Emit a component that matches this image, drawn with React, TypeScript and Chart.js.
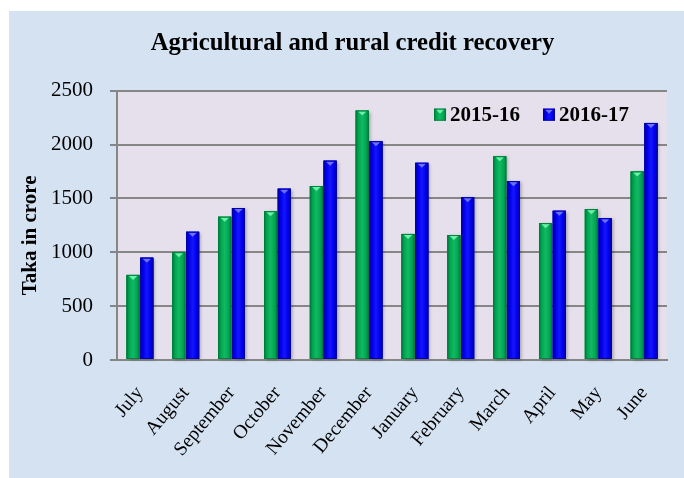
import React, { useEffect, useRef } from "react";
import { Chart, registerables } from "chart.js";

Chart.register(...registerables);

const months = ["July", "August", "September", "October", "November", "December", "January", "February", "March", "April", "May", "June"];
const seriesLabels = ["2015-16", "2016-17"];
const values2015_16 = [790, 1000, 1330, 1380, 1615, 2315, 1170, 1160, 1890, 1270, 1400, 1750];
const values2016_17 = [950, 1190, 1410, 1590, 1850, 2030, 1830, 1510, 1660, 1385, 1315, 2200];
const yTickValues = [0, 500, 1000, 1500, 2000, 2500];
const chartTitle = "Agricultural and rural credit recovery";
const yAxisTitle = "Taka in crore";

const SERIF = "'Liberation Serif', 'Times New Roman', serif";

const themes = [
  { base: "#00a651", edge: "#007a3a", light: "#12b862", tri: "#6df0a8" },
  { base: "#0000e8", edge: "#0000a0", light: "#1414ff", tri: "#7070ff" },
];

function fillBar(ctx: CanvasRenderingContext2D, left: number, top: number, w: number, h: number, t: typeof themes[0]) {
  const g = ctx.createLinearGradient(left, 0, left + w, 0);
  g.addColorStop(0, t.edge);
  g.addColorStop(0.22, t.base);
  g.addColorStop(0.5, t.light);
  g.addColorStop(0.8, t.base);
  g.addColorStop(1, t.edge);
  ctx.fillStyle = g;
  ctx.fillRect(left, top, w, h);
  const th = Math.min(5, h);
  ctx.fillStyle = t.tri;
  ctx.beginPath();
  ctx.moveTo(left + w * 0.18, top + 1);
  ctx.lineTo(left + w * 0.82, top + 1);
  ctx.lineTo(left + w * 0.5, top + th);
  ctx.closePath();
  ctx.fill();
  ctx.strokeStyle = t.edge;
  ctx.lineWidth = 0.8;
  ctx.strokeRect(left + 0.4, top + 0.4, w - 0.8, h - 0.8);
}

const plotBg = {
  id: "plotBg",
  beforeDraw(chart: any) {
    const { ctx, chartArea } = chart;
    ctx.save();
    ctx.fillStyle = "#e6e0ec";
    ctx.fillRect(chartArea.left, chartArea.top, chartArea.right - chartArea.left, chartArea.bottom - chartArea.top);
    ctx.restore();
  },
};

const barStyle = {
  id: "barStyle",
  afterDatasetsDraw(chart: any) {
    const ctx: CanvasRenderingContext2D = chart.ctx;
    ctx.save();
    chart.data.datasets.forEach((_ds: any, di: number) => {
      const meta = chart.getDatasetMeta(di);
      const t = themes[di];
      meta.data.forEach((el: any) => {
        const { x, y, base, width } = el.getProps(["x", "y", "base", "width"], true);
        const left = x - width / 2;
        ctx.save();
        ctx.shadowColor = "rgba(0,0,0,0.28)";
        ctx.shadowBlur = 3;
        ctx.shadowOffsetX = 2;
        ctx.shadowOffsetY = 1;
        ctx.fillStyle = t.base;
        ctx.fillRect(left, y, width, base - y);
        ctx.restore();
        fillBar(ctx, left, y, width, base - y, t);
      });
    });
    ctx.restore();
  },
};

const customLegend = {
  id: "customLegend",
  afterDraw(chart: any) {
    const { ctx, chartArea } = chart;
    ctx.save();
    ctx.font = `bold 21px ${SERIF}`;
    const box = 12;
    const gap = 4;
    const itemGap = 23;
    const labels: string[] = chart.data.datasets.map((d: any) => d.label);
    const widths = labels.map((l) => ctx.measureText(l).width);
    const total = widths.reduce((a, w) => a + box + gap + w, 0) + itemGap * (labels.length - 1);
    let x = chartArea.right - 38 - total;
    const boxTop = chartArea.top + 18;
    labels.forEach((l, i) => {
      fillBar(ctx, x, boxTop, box, box, themes[i]);
      ctx.fillStyle = "#000";
      ctx.textBaseline = "middle";
      ctx.textAlign = "left";
      ctx.fillText(l, x + box + gap, boxTop + box / 2 + 1);
      x += box + gap + widths[i] + itemGap;
    });
    ctx.restore();
  },
};

const yTitlePlugin = {
  id: "yTitle",
  afterDraw(chart: any) {
    const { ctx, chartArea } = chart;
    ctx.save();
    ctx.font = `bold 21px ${SERIF}`;
    ctx.fillStyle = "#000";
    ctx.textAlign = "center";
    ctx.textBaseline = "middle";
    ctx.translate(21.5, (chartArea.top + chartArea.bottom) / 2 + 10);
    ctx.rotate(-Math.PI / 2);
    ctx.fillText(yAxisTitle, 0, 0);
    ctx.restore();
  },
};

export default function App() {
  const canvasRef = useRef<HTMLCanvasElement | null>(null);

  useEffect(() => {
    if (!canvasRef.current) return;
    const chart = new Chart(canvasRef.current, {
      type: "bar",
      data: {
        labels: months,
        datasets: [
          { label: seriesLabels[0], data: values2015_16, backgroundColor: themes[0].base, categoryPercentage: 0.6, barPercentage: 0.95 },
          { label: seriesLabels[1], data: values2016_17, backgroundColor: themes[1].base, categoryPercentage: 0.6, barPercentage: 0.95 },
        ],
      },
      options: {
        animation: false,
        responsive: true,
        maintainAspectRatio: false,
        layout: { padding: { left: 29, right: 17, top: 0, bottom: 0 } },
        plugins: {
          legend: { display: false },
          tooltip: { enabled: false },
          title: {
            display: true,
            text: chartTitle,
            color: "#000",
            font: { family: SERIF, size: 24.7, weight: "bold" },
            padding: { top: 18, bottom: 32 },
          },
        },
        scales: {
          x: {
            grid: { display: false },
            border: { display: true, color: "#868686", width: 2 },
            ticks: {
              autoSkip: false,
              maxRotation: 50,
              minRotation: 50,
              color: "#000",
              font: { family: SERIF, size: 19.5 },
              padding: 14,
            },
            afterFit: (s: any) => {
              s.height = 118;
            },
          },
          y: {
            min: 0,
            max: 2500,
            grid: { color: "#868686", lineWidth: 2, tickLength: 7 },
            border: { display: true, color: "#868686", width: 2 },
            ticks: {
              color: "#000",
              font: { family: SERIF, size: 21 },
              padding: 17,
              callback: (v: any) => String(v),
            },
            afterBuildTicks: (s: any) => {
              s.ticks = yTickValues.map((v) => ({ value: v }));
            },
            afterFit: (s: any) => {
              s.width = 79;
            },
          },
        },
      } as any,
      plugins: [plotBg, barStyle, customLegend, yTitlePlugin],
    });
    return () => chart.destroy();
  }, []);

  return (
    <div style={{ position: "absolute", left: 9, top: 11, width: 675, height: 467, background: "#d5e2f2" }}>
      <canvas ref={canvasRef} />
    </div>
  );
}
